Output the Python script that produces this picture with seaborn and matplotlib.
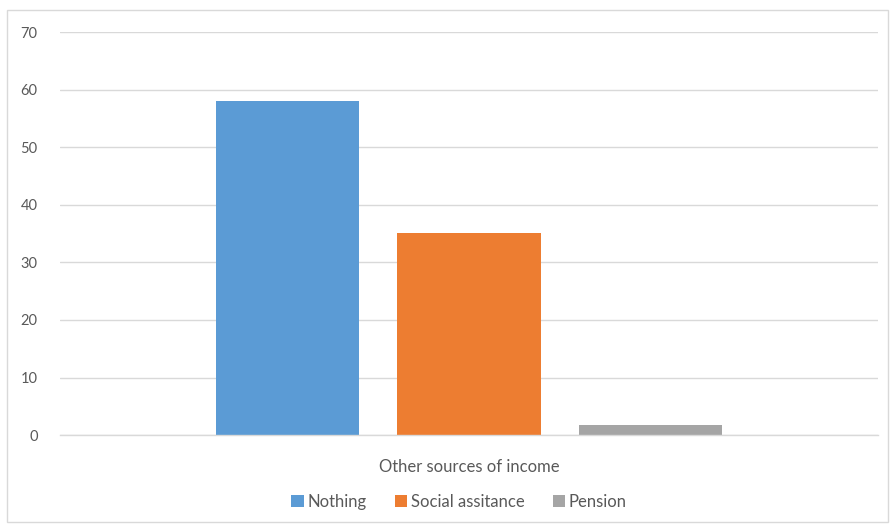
import matplotlib
matplotlib.use("Agg")
import matplotlib.pyplot as plt
import seaborn as sns
import pandas as pd
from matplotlib.patches import Rectangle

categories = ["Other sources of income"]
series = ["Nothing", "Social assitance", "Pension"]
values = [58, 35.1, 1.8]
colors = ["#5B9BD5", "#ED7D31", "#A5A5A5"]
yticks = [0, 10, 20, 30, 40, 50, 60, 70]

df = pd.DataFrame({
    "category": categories * len(series),
    "series": series,
    "value": values,
})

sns.set_theme(style="white")
plt.rcParams["font.family"] = ["Lato", "DejaVu Sans"]

fig = plt.figure(figsize=(8.93, 5.28), dpi=100)
ax = fig.add_axes([0.067, 0.176, 0.916, 0.763])

sns.barplot(data=df, x="category", y="value", hue="series", hue_order=series,
            palette=colors, width=0.666, gap=0.21, ax=ax, saturation=1,
            edgecolor="none", legend=True)

ax.set_xlim(-0.5, 0.5)
ax.set_ylim(0, 70)
ax.set_yticks(yticks)
ax.set_yticklabels([str(t) for t in yticks], color="#595959", fontsize=10.5)
ax.tick_params(axis="y", length=0, pad=16)
ax.tick_params(axis="x", length=0, pad=17, labelsize=12, labelcolor="#595959")
ax.set_xlabel("")
ax.set_ylabel("")
ax.yaxis.grid(True, color="#d9d9d9", linewidth=1)
ax.set_axisbelow(True)
for s in ["top", "right", "left"]:
    ax.spines[s].set_visible(False)
ax.spines["bottom"].set_color("#d9d9d9")
ax.spines["bottom"].set_linewidth(1)

leg = ax.legend(loc="center", bbox_to_anchor=(0.488, -0.165), ncol=3, frameon=False,
                fontsize=12, handlelength=0.75, handleheight=0.75, handletextpad=0.2,
                columnspacing=1.7)
for t in leg.get_texts():
    t.set_color("#595959")

fig.patches.append(Rectangle((7 / 893, 6 / 528), 881 / 893, 512 / 528,
                             transform=fig.transFigure, fill=False,
                             edgecolor="#d9d9d9", linewidth=1))

fig.savefig("out.png", dpi=100, facecolor="white")
